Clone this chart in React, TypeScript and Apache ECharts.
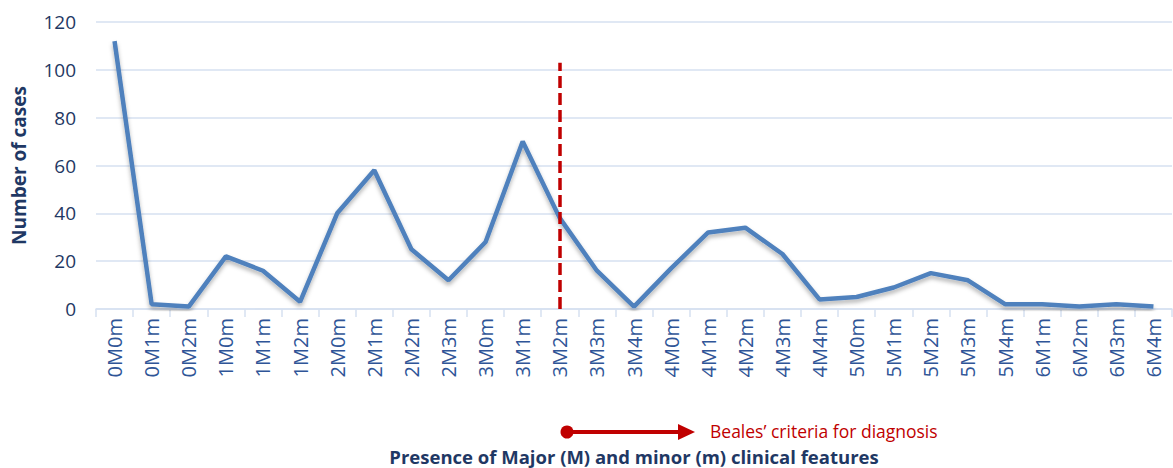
import React, { useEffect, useRef } from "react";
import * as echarts from "echarts";

const categories = [
  "0M0m", "0M1m", "0M2m", "1M0m", "1M1m", "1M2m", "2M0m", "2M1m", "2M2m", "2M3m",
  "3M0m", "3M1m", "3M2m", "3M3m", "3M4m", "4M0m", "4M1m", "4M2m", "4M3m", "4M4m",
  "5M0m", "5M1m", "5M2m", "5M3m", "5M4m", "6M1m", "6M2m", "6M3m", "6M4m",
];
const cases = [
  112, 2, 1, 22, 16, 3, 40, 58, 25, 12,
  28, 70, 38, 16, 1, 17, 32, 34, 23, 4,
  5, 9, 15, 12, 2, 2, 1, 2, 1,
];
const criteriaCategory = "3M2m";
const criteriaTop = 103;
const yTicks = { min: 0, max: 120, interval: 20 };
const criteriaLabel = "Beales’ criteria for diagnosis";
const yAxisTitle = "Number of cases";
const xAxisTitle = "Presence of Major (M) and minor (m) clinical features";

const FONT = "'Open Sans', sans-serif";
const RED = "#C00000";
const LABEL_BLUE = "#2F5597";
const DARK_BLUE = "#1F3864";
const GRID_BLUE = "#D6E1F1";

export default function App() {
  const ref = useRef<HTMLDivElement>(null);
  useEffect(() => {
    if (!ref.current) return;
    const chart = echarts.init(ref.current, null, { renderer: "svg" });
    chart.setOption({
      animation: false,
      textStyle: { fontFamily: FONT },
      grid: { left: 96, right: 1, top: 22, bottom: 159, containLabel: false, outerBoundsMode: "none" },
      xAxis: {
        type: "category",
        data: categories,
        boundaryGap: true,
        name: xAxisTitle,
        nameLocation: "middle",
        nameGap: 138,
        nameTextStyle: { fontFamily: FONT, fontWeight: "bold", fontSize: 18.5, color: DARK_BLUE, lineHeight: 18 },
        axisLine: { show: true, lineStyle: { color: GRID_BLUE, width: 1.5 } },
        axisTick: { show: true, length: 8, lineStyle: { color: GRID_BLUE, width: 1.5 } },
        axisLabel: { rotate: 90, margin: 9, fontSize: 20, color: LABEL_BLUE, fontFamily: FONT, interval: 0 },
        splitLine: { show: false },
      },
      yAxis: {
        type: "value",
        min: yTicks.min,
        max: yTicks.max,
        interval: yTicks.interval,
        name: yAxisTitle,
        nameLocation: "middle",
        nameGap: 68,
        nameTextStyle: { fontFamily: FONT, fontWeight: "bold", fontSize: 19, color: DARK_BLUE },
        axisLine: { show: false },
        axisTick: { show: false },
        axisLabel: { fontSize: 19, color: DARK_BLUE, fontFamily: FONT, margin: 20 },
        splitLine: { lineStyle: { color: GRID_BLUE, width: 1.5 } },
      },
      series: [
        {
          type: "line",
          data: cases,
          symbol: "none",
          lineStyle: {
            color: "#4F81BD",
            width: 4.5,
            shadowColor: "rgba(0,0,0,0.3)",
            shadowBlur: 4,
            shadowOffsetY: 3,
          },
          markLine: {
            silent: true,
            symbol: ["none", "none"],
            label: { show: false },
            lineStyle: { color: RED, width: 3.5, type: [12, 5] },
            data: [[
              { coord: [criteriaCategory, 0] },
              { coord: [criteriaCategory, criteriaTop] },
            ]],
          },
        },
      ],
      graphic: [
        { type: "line", shape: { x1: 567, y1: 432, x2: 682, y2: 432 }, style: { stroke: RED, lineWidth: 4 } },
        { type: "circle", shape: { cx: 567, cy: 432, r: 6.5 }, style: { fill: RED } },
        { type: "polygon", shape: { points: [[678, 424], [695, 432], [678, 440]] }, style: { fill: RED } },
        {
          type: "text",
          x: 710,
          y: 431,
          style: {
            text: criteriaLabel,
            fill: RED,
            fontSize: 17.5,
            lineHeight: 18,
            fontFamily: FONT,
            verticalAlign: "middle",
            align: "left",
          },
        },
      ],
    });
    return () => chart.dispose();
  }, []);
  return (
    <div
      ref={ref}
      style={{ position: "absolute", left: 0, top: 0, width: 1173, height: 468, background: "#fff" }}
    />
  );
}
